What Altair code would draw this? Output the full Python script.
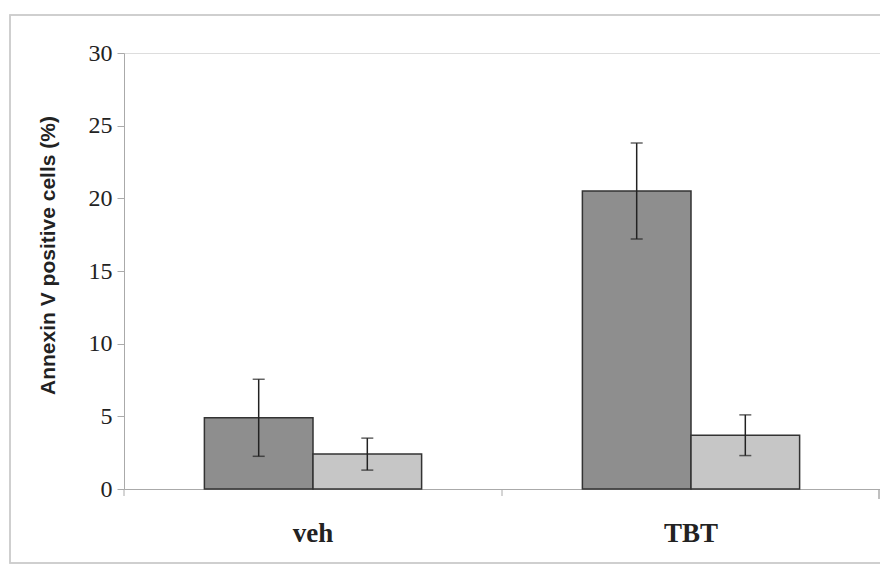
import altair as alt
import pandas as pd

groups = ["veh", "veh", "TBT", "TBT"]
series = ["A", "B", "A", "B"]
means = [4.9, 2.4, 20.5, 3.7]
errs = [2.65, 1.1, 3.3, 1.4]
categories = ["veh", "TBT"]
y_ticks = [0, 5, 10, 15, 20, 25, 30]

df = pd.DataFrame({"group": groups, "series": series, "mean": means, "err": errs})
df["lo"] = df["mean"] - df["err"]
df["hi"] = df["mean"] + df["err"]

W, H = 756, 436

xenc = alt.X("group:N", sort=categories, title=None,
             scale=alt.Scale(paddingInner=0, paddingOuter=0),
             axis=alt.Axis(labelAngle=0, ticks=False, labelPadding=31,
                           domainColor="#aaaaaa", domainWidth=1))
xoff = alt.XOffset("series:N", scale=alt.Scale(paddingOuter=0.74, paddingInner=0))
yscale = alt.Scale(domain=[0, 30], nice=False)

bars = alt.Chart(df).mark_bar(stroke="#333333", strokeWidth=1.5).encode(
    x=xenc, xOffset=xoff,
    y=alt.Y("mean:Q", scale=yscale, title="Annexin V positive cells (%)",
            axis=alt.Axis(values=y_ticks, grid=False, tickSize=7,
                          tickColor="#aaaaaa", domainColor="#aaaaaa", labelPadding=5,
                          titleFont="Liberation Sans", titleFontWeight="bold",
                          titleFontSize=21, titleColor="#222", titleX=-76, titleY=202,
                          titleAngle=270, titleBaseline="middle", titleAlign="center")),
    color=alt.Color("series:N", legend=None,
                    scale=alt.Scale(domain=["A", "B"], range=["#8e8e8e", "#c6c6c6"])),
)

rules = alt.Chart(df).mark_rule(color="#222", strokeWidth=1.5).encode(
    x=alt.X("group:N", sort=categories), xOffset=xoff,
    y=alt.Y("lo:Q", scale=yscale), y2="hi:Q")

caps_hi = alt.Chart(df).mark_tick(color="#222", thickness=1.5, size=12, orient="horizontal").encode(
    x=alt.X("group:N", sort=categories), xOffset=xoff, y=alt.Y("hi:Q", scale=yscale))
caps_lo = alt.Chart(df).mark_tick(color="#222", thickness=1.5, size=12, orient="horizontal").encode(
    x=alt.X("group:N", sort=categories), xOffset=xoff, y=alt.Y("lo:Q", scale=yscale))

cat_df = pd.DataFrame({"group": categories})
sep_ticks = alt.Chart(cat_df).mark_rule(color="#aaaaaa", strokeWidth=1).encode(
    x=alt.X("group:N", sort=categories, bandPosition=0),
    y=alt.value(H), y2=alt.value(H + 7))
end_tick = alt.Chart(cat_df).mark_rule(color="#aaaaaa", strokeWidth=1).encode(
    x=alt.value(W - 1), y=alt.value(H), y2=alt.value(H + 10))

frame = alt.Chart(cat_df).mark_rect(fill=None, stroke="#cccccc", strokeWidth=1.5).encode(
    x=alt.value(-114), x2=alt.value(775), y=alt.value(-38), y2=alt.value(510))

chart = alt.layer(frame, bars, rules, caps_hi, caps_lo, sep_ticks, end_tick).properties(
    width=W, height=H,
    autosize=alt.AutoSizeParams(type="none"),
    padding={"left": 116, "top": 45, "right": 0, "bottom": 76},
).configure_view(stroke=None).configure(background="white").configure_axis(
    labelFont="Liberation Serif", labelColor="#222"
).configure_axisY(labelFontSize=24).configure_axisX(labelFontWeight="bold", labelFontSize=27)

chart.save("out.html", embed_options={"renderer": "svg", "actions": False})
